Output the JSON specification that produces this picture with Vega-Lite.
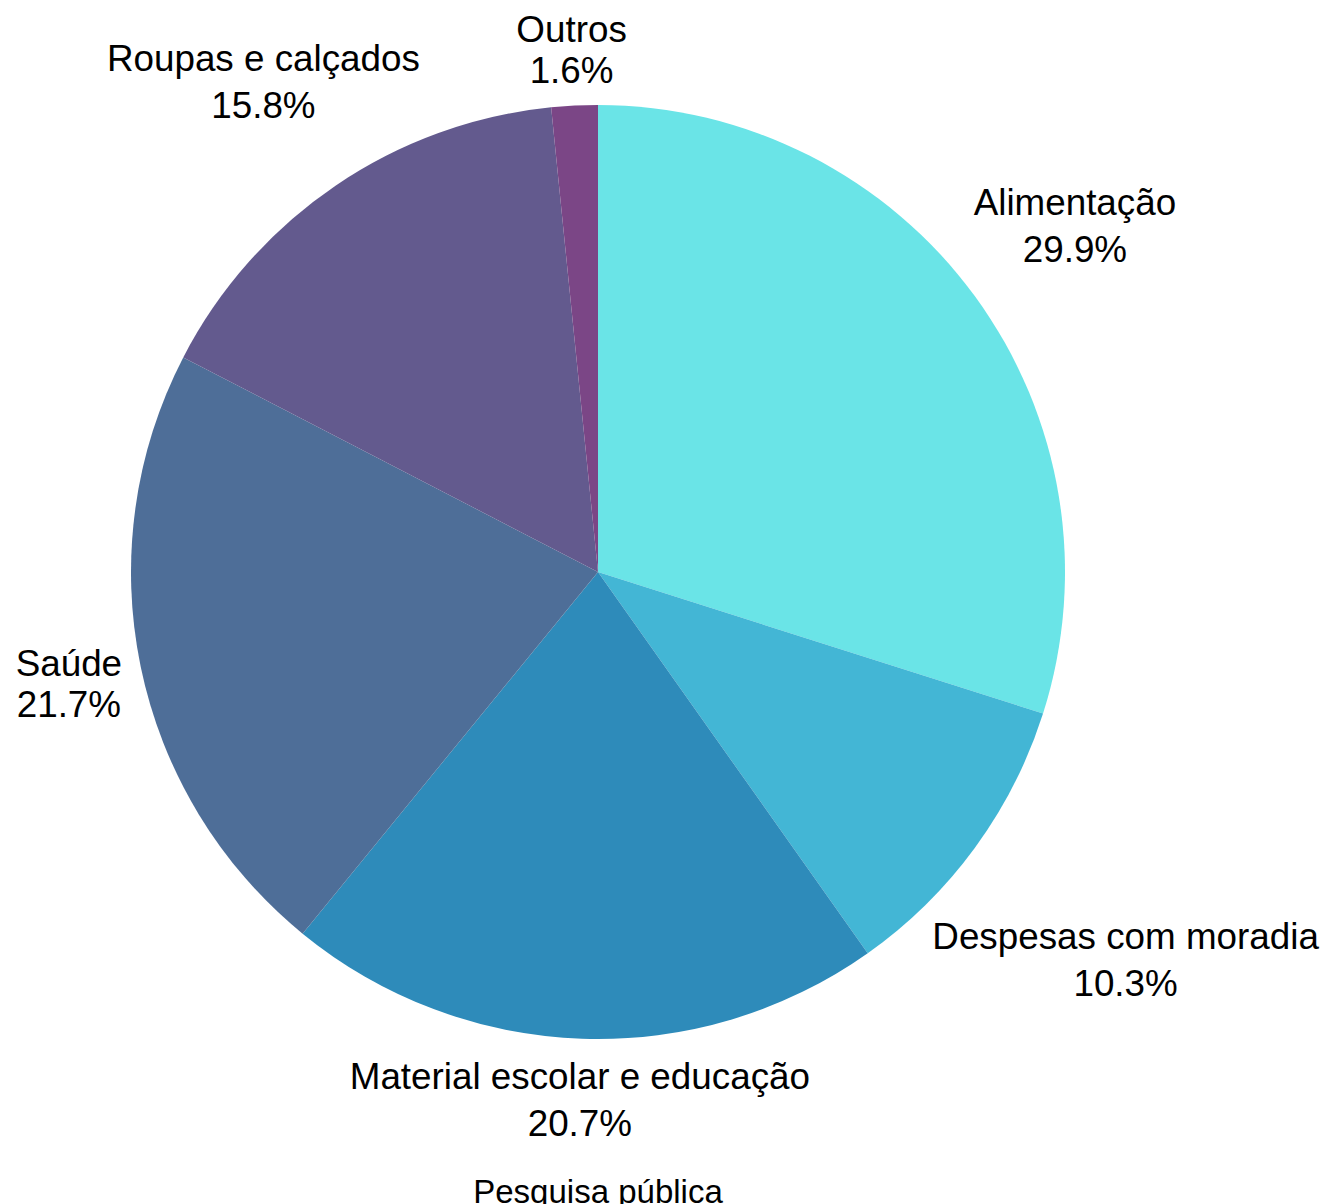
{
  "$schema": "https://vega.github.io/schema/vega-lite/v6.json",
  "width": 1196,
  "height": 1144,
  "autosize": {"type": "none"},
  "padding": {"left": 0, "top": 0, "right": 134, "bottom": 60},
  "background": "white",
  "config": {"view": {"stroke": null}, "font": "Liberation Sans"},
  "title": {
    "text": "Pesquisa pública",
    "orient": "bottom",
    "anchor": "middle",
    "frame": "group",
    "offset": 33,
    "baseline": "top",
    "fontSize": 33,
    "fontWeight": "normal",
    "font": "Liberation Sans",
    "color": "#000000"
  },
  "data": {
    "values": [
      {"category": "Alimentação", "value": 29.9},
      {"category": "Despesas com moradia", "value": 10.3},
      {"category": "Material escolar e educação", "value": 20.7},
      {"category": "Saúde", "value": 21.7},
      {"category": "Roupas e calçados", "value": 15.8},
      {"category": "Outros", "value": 1.6}
    ]
  },
  "transform": [
    {"window": [{"op": "row_number", "as": "idx"}]},
    {"calculate": "format(datum.value, '.1f') + '%'", "as": "pct"}
  ],
  "encoding": {
    "theta": {"field": "value", "type": "quantitative", "stack": true},
    "order": {"field": "idx", "type": "quantitative"}
  },
  "layer": [
    {
      "mark": {"type": "arc", "outerRadius": 467, "stroke": null},
      "encoding": {
        "color": {
          "field": "category",
          "type": "nominal",
          "scale": {
            "domain": ["Alimentação", "Despesas com moradia", "Material escolar e educação", "Saúde", "Roupas e calçados", "Outros"],
            "range": ["#6ae4e7", "#43b6d5", "#2e8bba", "#4e6e98", "#635a8e", "#7b4686"]
          },
          "legend": null
        }
      }
    },
    {
      "mark": {
        "type": "text",
        "fontSize": 36.8,
        "font": "Liberation Sans",
        "color": "#000000",
        "align": "center",
        "baseline": "middle",
        "dy": {"expr": "length(datum.category) > 8 ? -19.5 : -16.5"},
        "radius": {"expr": "(abs(sin(PI*(datum.value_start+datum.value_end)/100))*max(length(datum.category)*9.4,50)+abs(cos(PI*(datum.value_start+datum.value_end)/100))*41+sqrt(pow(abs(sin(PI*(datum.value_start+datum.value_end)/100))*max(length(datum.category)*9.4,50)+abs(cos(PI*(datum.value_start+datum.value_end)/100))*41,2)-(pow(max(length(datum.category)*9.4,50),2)+1681-234256))) * abs(sin(PI*(datum.value_start+datum.value_end)/100)) < max(length(datum.category)*9.4,50) ? 525/abs(cos(PI*(datum.value_start+datum.value_end)/100)) : (abs(sin(PI*(datum.value_start+datum.value_end)/100))*max(length(datum.category)*9.4,50)+abs(cos(PI*(datum.value_start+datum.value_end)/100))*41+sqrt(pow(abs(sin(PI*(datum.value_start+datum.value_end)/100))*max(length(datum.category)*9.4,50)+abs(cos(PI*(datum.value_start+datum.value_end)/100))*41,2)-(pow(max(length(datum.category)*9.4,50),2)+1681-234256)))"}
      },
      "encoding": {
        "text": {"field": "category", "type": "nominal"}
      }
    },
    {
      "mark": {
        "type": "text",
        "fontSize": 36.8,
        "font": "Liberation Sans",
        "color": "#000000",
        "align": "center",
        "baseline": "middle",
        "dy": {"expr": "length(datum.category) > 8 ? 27.5 : 24.5"},
        "radius": {"expr": "(abs(sin(PI*(datum.value_start+datum.value_end)/100))*max(length(datum.category)*9.4,50)+abs(cos(PI*(datum.value_start+datum.value_end)/100))*41+sqrt(pow(abs(sin(PI*(datum.value_start+datum.value_end)/100))*max(length(datum.category)*9.4,50)+abs(cos(PI*(datum.value_start+datum.value_end)/100))*41,2)-(pow(max(length(datum.category)*9.4,50),2)+1681-234256))) * abs(sin(PI*(datum.value_start+datum.value_end)/100)) < max(length(datum.category)*9.4,50) ? 525/abs(cos(PI*(datum.value_start+datum.value_end)/100)) : (abs(sin(PI*(datum.value_start+datum.value_end)/100))*max(length(datum.category)*9.4,50)+abs(cos(PI*(datum.value_start+datum.value_end)/100))*41+sqrt(pow(abs(sin(PI*(datum.value_start+datum.value_end)/100))*max(length(datum.category)*9.4,50)+abs(cos(PI*(datum.value_start+datum.value_end)/100))*41,2)-(pow(max(length(datum.category)*9.4,50),2)+1681-234256)))"}
      },
      "encoding": {
        "text": {"field": "pct", "type": "nominal"}
      }
    }
  ]
}
